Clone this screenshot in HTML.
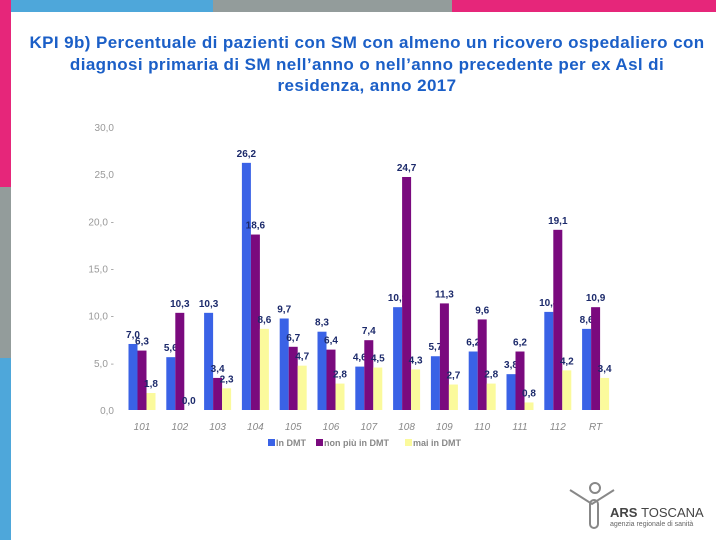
<!DOCTYPE html>
<html><head><meta charset="utf-8"><style>
body{margin:0;width:720px;height:540px;position:relative;background:#fff;font-family:"Liberation Sans",sans-serif;overflow:hidden}
.abs{position:absolute}
#title{left:14px;top:32px;width:706px;text-align:center;color:#1b5fc7;font-weight:bold;font-size:17px;letter-spacing:0.4px;line-height:21.5px;white-space:nowrap}
</style></head><body>
<div class="abs" style="left:11px;top:0;width:202px;height:12px;background:#4ea7da"></div>
<div class="abs" style="left:213px;top:0;width:239px;height:12px;background:#939c9b"></div>
<div class="abs" style="left:452px;top:0;width:264px;height:12px;background:#e6267a"></div>
<div class="abs" style="left:0;top:0;width:11px;height:187px;background:#e6267a"></div>
<div class="abs" style="left:0;top:187px;width:11px;height:171px;background:#939c9b"></div>
<div class="abs" style="left:0;top:358px;width:11px;height:182px;background:#4ea7da"></div>
<div id="title" class="abs">KPI 9b) Percentuale di pazienti con SM con almeno un ricovero ospedaliero con<br>diagnosi primaria di SM nell’anno o nell’anno precedente per ex Asl di<br>residenza, anno 2017</div>
<svg class="abs" style="left:0;top:0" width="720" height="540" id="chart"></svg>
<div class="abs" style="left:562px;top:480px;width:150px;height:50px">
<svg width="60" height="50" style="position:absolute;left:0;top:0"><g fill="none" stroke="#888" stroke-width="2"><circle cx="33" cy="8" r="5"/><path d="M8 10 L30 24 L52 10"/><rect x="28" y="20" width="8" height="28" rx="4"/></g></svg>
<div style="position:absolute;left:48px;top:25px;font-size:13px;color:#444;font-weight:bold">ARS <span style="font-weight:normal">TOSCANA</span></div>
<div style="position:absolute;left:48px;top:41px;font-size:7px;color:#666">agenzia regionale di sanità</div>
</div>
<script>
const categories=["101","102","103","104","105","106","107","108","109","110","111","112","RT"];
const inDMT=[7.0,5.6,10.3,26.2,9.7,8.3,4.6,10.9,5.7,6.2,3.8,10.4,8.6];
const nonPiuDMT=[6.3,10.3,3.4,18.6,6.7,6.4,7.4,24.7,11.3,9.6,6.2,19.1,10.9];
const maiDMT=[1.8,0.0,2.3,8.6,4.7,2.8,4.5,4.3,2.7,2.8,0.8,4.2,3.4];
const yTicks=[0,5,10,15,20,25,30];
const seriesNames=["In DMT","non più in DMT","mai in DMT"];
const colors=["#3a62e6","#7a0a7e","#fbfa9c"];
const svg=document.getElementById('chart');const NS="http://www.w3.org/2000/svg";
const y0=410,pxu=(410-127)/30;
const y=v=>y0-v*pxu;
const x=i=>142+i*37.8;
function mk(t,a,txt){const e=document.createElementNS(NS,t);for(const k in a)e.setAttribute(k,a[k]);if(txt!==undefined)e.textContent=txt;svg.appendChild(e);return e;}
yTicks.forEach(t=>{
 const e=mk('text',{x:114,y:y(t)+4,'text-anchor':'end','font-size':10,fill:'#999'},t.toFixed(1).replace('.',',')+((t==20||t==15||t==10||t==5)?' -':''));
 
 
});
const series=[inDMT,nonPiuDMT,maiDMT];
categories.forEach((c,i)=>{
 series.forEach((s,k)=>{
  const bx=x(i)-13.5+k*9;
  const r=mk('rect',{x:bx,y:y(s[i]),width:9,height:s[i]*pxu,fill:colors[k]});
  
  
  const t=mk('text',{x:bx+4.5,y:y(s[i])-6,'text-anchor':'middle','font-size':10,'font-weight':'bold',fill:'#1c2a6b'},s[i].toFixed(1).replace('.',','));
  
  
 });
 const l=mk('text',{x:x(i),y:430,'text-anchor':'middle','font-size':10,'font-style':'italic',fill:'#888'},c);
 
 
});
const lx=[268,316,405];
seriesNames.forEach((n,k)=>{
 const r=mk('rect',{x:lx[k],y:439,width:7,height:7,fill:colors[k]});
 
 
 const t=mk('text',{x:lx[k]+8,y:446,'font-size':9,'font-weight':'bold',fill:'#888'},n);
 
 
});
</script>
</body></html>
